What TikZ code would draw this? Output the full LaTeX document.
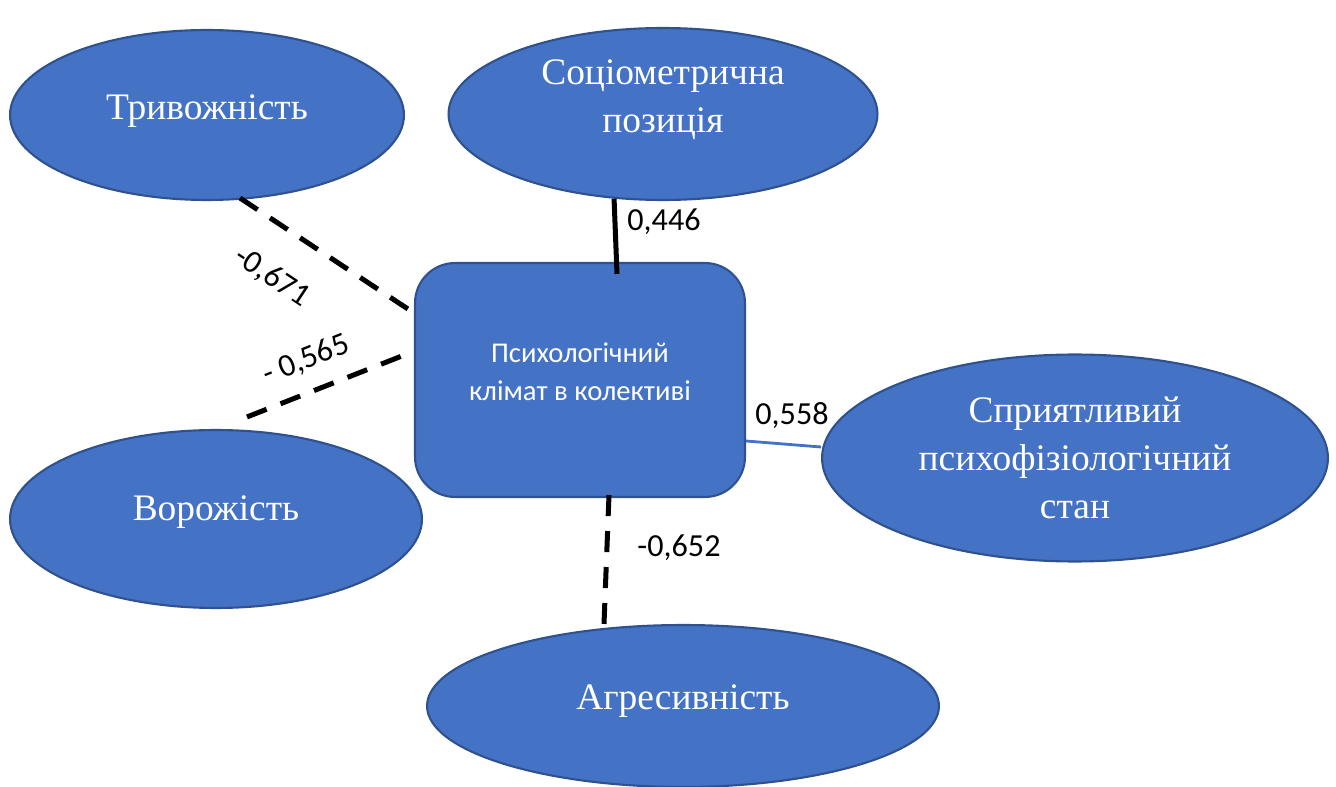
\documentclass[tikz,border=0pt]{standalone}
\usepackage{fontspec}
\setmainfont{Liberation Serif}
\newfontfamily\calibfont{Carlito}
\usetikzlibrary{shapes.geometric,calc}
\definecolor{nodeblue}{HTML}{4472C4}
\definecolor{rimblue}{HTML}{2F528F}

\begin{document}
\begin{tikzpicture}[x=0.02cm, y=-0.02cm,
  factor/.style={draw=rimblue, line width=1.2pt, fill=nodeblue, ellipse, inner sep=0pt,
    text=white, align=center, font=\fontsize{21.3}{27.5}\selectfont},
  centre/.style={draw=rimblue, line width=1.2pt, fill=nodeblue, rounded corners=0.8cm,
    minimum width=6.6cm, minimum height=4.68cm, text=white, align=center,
    font=\calibfont\fontsize{16.3}{22}\selectfont},
  corr/.style={font=\calibfont\fontsize{18.3}{20}\selectfont, inner sep=0pt},
  negline/.style={line width=2.85pt, dash pattern=on 12pt off 8.5pt},
  posline/.style={line width=2.85pt}]
\useasboundingbox (0,0) rectangle (1336,787);

\node[centre, text depth=9.7pt] (clim) at (580,380) {Психологічний\\клімат в колективі};
\node[factor, minimum width=7.88cm, minimum height=3.4cm, text depth=9pt] (trev) at (207,115) {Тривожність};
\node[factor, minimum width=8.58cm, minimum height=3.44cm, text depth=20pt] (soc) at (663,114) {Соціометрична\\позиція};
\node[factor, minimum width=10.12cm, minimum height=4.14cm] (spr) at (1075,458) {Сприятливий\\психофізіологічний\\стан};
\node[factor, minimum width=8.24cm, minimum height=3.56cm, text depth=12pt] (vor) at (216,519) {Ворожість};
\node[factor, minimum width=10.24cm, minimum height=3.24cm, text depth=10pt] (agr) at (683,706) {Агресивність};

\draw[negline] ($(trev.south)+(33,-3)$) -- ($(clim.west)+(0,-67)$);
\draw[negline] ($(vor.north)+(31,-12)$) -- ($(clim.west)+(-7,-26)$);
\draw[posline] (soc.-120) -- ($(clim.north)+(37,12)$);
\draw[nodeblue, line width=1.6pt] ($(clim.east)+(0,61)$) -- ($(spr.west)+(0,-11)$);
\draw[negline] ($(clim.south)+(29,-3)$) -- ($(agr.north)+(-79,0)$);

\node[corr, rotate=-33.5] (l671) at (272,277) {-0,671};
\node[corr, rotate=21.7] (l565) at (306,360) {- 0,565};
\node[corr] (l446) at (664,222) {0,446};
\node[corr] (l558) at (792,416) {0,558};
\node[corr] (l652) at (679,548) {-0,652};
\end{tikzpicture}
\end{document}
